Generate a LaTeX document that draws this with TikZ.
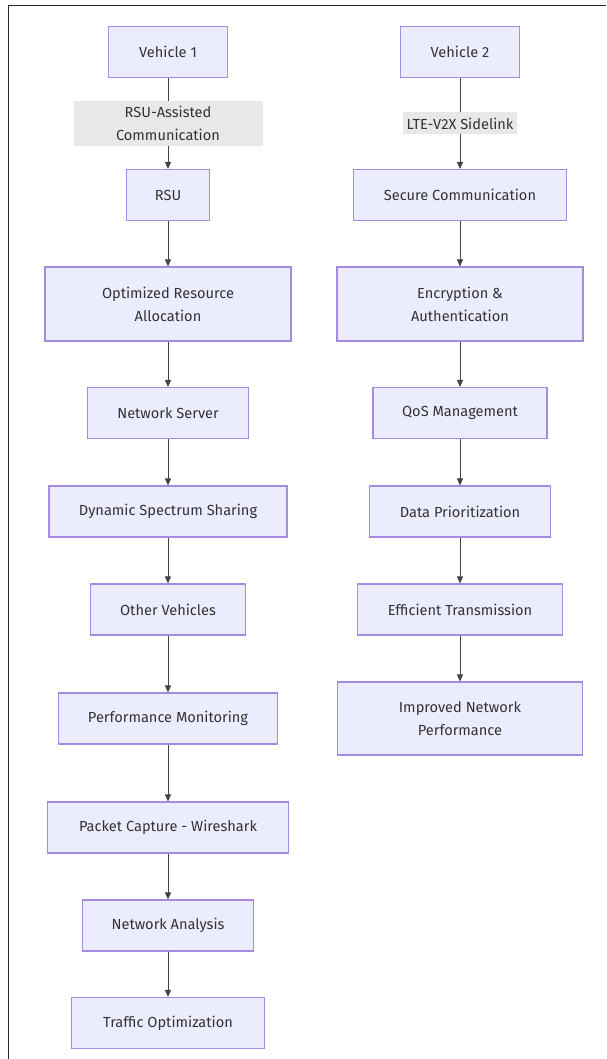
\documentclass[tikz,border=0pt]{standalone}
\usepackage{fontspec}
\setmainfont{Fira Sans}
\usetikzlibrary{arrows.meta}
\definecolor{boxfill}{HTML}{ECECFF}
\definecolor{boxdraw}{HTML}{A58BE3}
\definecolor{txt}{HTML}{333333}
\definecolor{lblbg}{HTML}{E8E8E8}
\definecolor{edgec}{HTML}{444444}
\tikzset{
  box/.style={draw=boxdraw, fill=boxfill, line width=1.1pt, text=txt, align=center,
    minimum height=51pt, inner sep=0pt, font=\fontsize{14.6}{23}\selectfont},
  flowedge/.style={draw=edgec, line width=0.9pt, -{Triangle[length=7pt,width=6pt]}},
  lbl/.style={fill=lblbg, text=txt, align=center, inner sep=0pt, font=\fontsize{14.6}{23}\selectfont}
}
\begin{document}
\begin{tikzpicture}[x=1pt,y=-1pt]
\useasboundingbox (0,0) rectangle (606,1059);
\draw[line width=1.3pt, black!85] (8.5,1059) -- (8.5,5.5) -- (606,5.5);
% left column
\node[box, minimum width=119pt] (v1) at (168,52) {Vehicle 1};
\node[box, minimum width=83pt] (rsu) at (168,195) {RSU};
\node[box, minimum width=246pt, minimum height=74pt] (ora) at (168,304) {Optimized Resource\\Allocation};
\node[box, minimum width=161pt] (ns) at (168,413) {Network Server};
\node[box, minimum width=238pt] (dss) at (168,511.5) {Dynamic Spectrum Sharing};
\node[box, minimum width=155pt] (ov) at (168,609.5) {Other Vehicles};
\node[box, minimum width=219pt] (pm) at (168,718.5) {Performance Monitoring};
\node[box, minimum width=241pt] (pc) at (168,827.5) {Packet Capture - Wireshark};
\node[box, minimum width=171pt] (na) at (168,925.5) {Network Analysis};
\node[box, minimum width=193pt] (to) at (168,1023) {Traffic Optimization};
% right column
\node[box, minimum width=119pt] (v2) at (460,52) {Vehicle 2};
\node[box, minimum width=213pt] (sc) at (460,195) {Secure Communication};
\node[box, minimum width=246pt, minimum height=74pt] (ea) at (460,304) {Encryption \&\\Authentication};
\node[box, minimum width=174pt] (qos) at (460,413) {QoS Management};
\node[box, minimum width=181pt] (dp) at (460,511.5) {Data Prioritization};
\node[box, minimum width=205pt] (et) at (460,609.5) {Efficient Transmission};
\node[box, minimum width=245pt, minimum height=73pt] (inp) at (460,718.5) {Improved Network\\Performance};
% edges
\draw[flowedge] (v1) -- (rsu) node[midway, lbl, minimum width=189pt, minimum height=45pt] (l1) {RSU-Assisted\\Communication};
\draw[flowedge] (rsu) -- (ora);
\draw[flowedge] (ora) -- (ns);
\draw[flowedge] (ns) -- (dss);
\draw[flowedge] (dss) -- (ov);
\draw[flowedge] (ov) -- (pm);
\draw[flowedge] (pm) -- (pc);
\draw[flowedge] (pc) -- (na);
\draw[flowedge] (na) -- (to);
\draw[flowedge] (v2) -- (sc) node[midway, lbl, minimum width=114pt, minimum height=22pt] (l2) {LTE-V2X Sidelink};
\draw[flowedge] (sc) -- (ea);
\draw[flowedge] (ea) -- (qos);
\draw[flowedge] (qos) -- (dp);
\draw[flowedge] (dp) -- (et);
\draw[flowedge] (et) -- (inp);
\end{tikzpicture}
\end{document}
